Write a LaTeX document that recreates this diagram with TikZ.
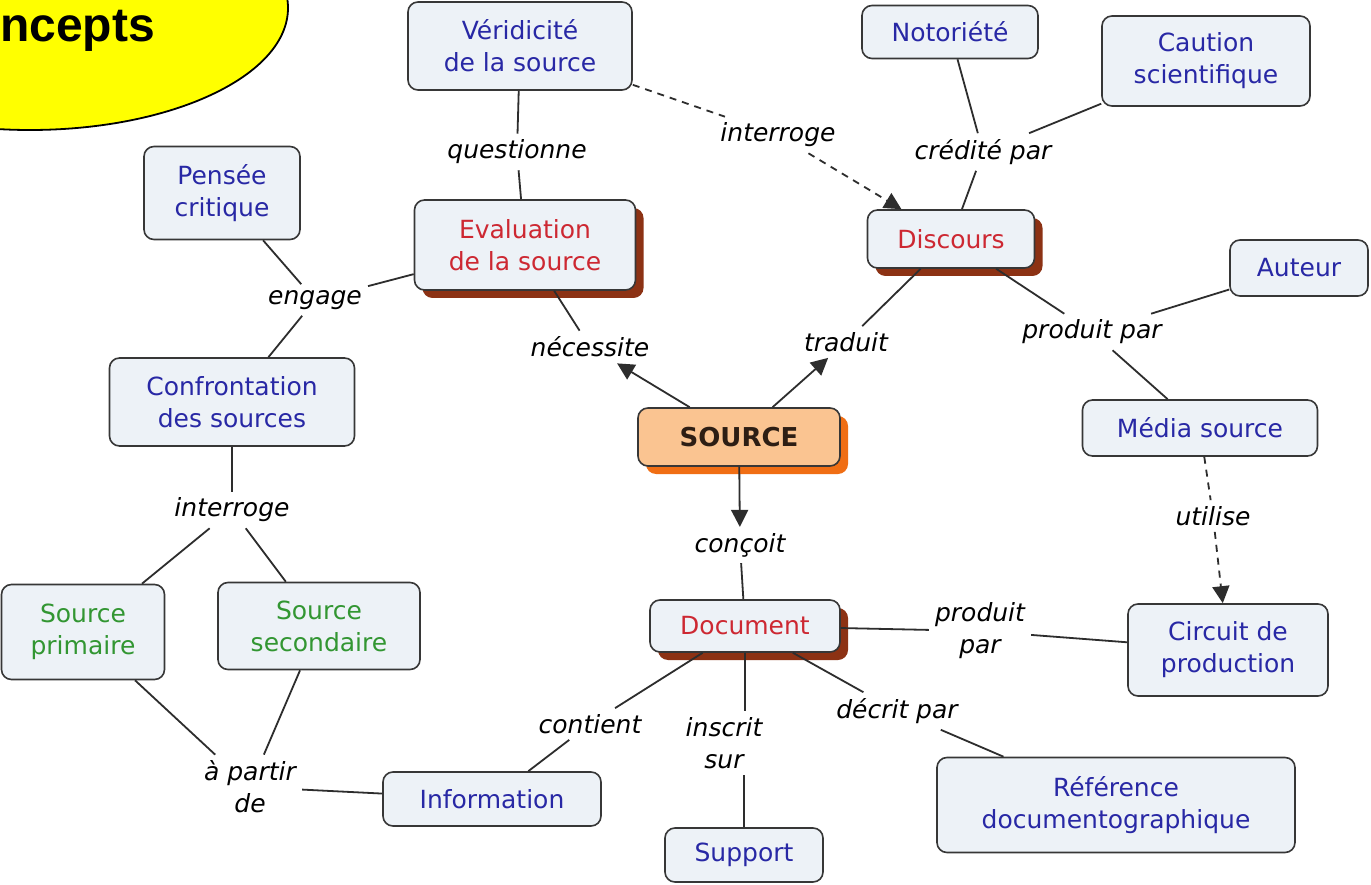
\documentclass[tikz,border=0pt]{standalone}
\usepackage{fontspec}
\setmainfont{DejaVu Sans}
\newfontfamily\titlefont{Liberation Sans}
\usetikzlibrary{arrows.meta,shadows}
\definecolor{boxfill}{RGB}{237,242,247}
\definecolor{boxdraw}{RGB}{55,55,55}
\definecolor{linecol}{RGB}{45,45,45}
\definecolor{ctblue}{RGB}{40,40,165}
\definecolor{ctred}{RGB}{205,40,50}
\definecolor{ctgreen}{RGB}{50,150,50}
\definecolor{shadowred}{RGB}{140,50,20}
\definecolor{srcfill}{RGB}{250,196,145}
\definecolor{srcshadow}{RGB}{240,110,20}
\definecolor{srctext}{RGB}{45,30,20}
\definecolor{titleyellow}{RGB}{255,255,0}
\begin{document}
\begin{tikzpicture}[x=1pt,y=-1pt,
  concept/.style={draw=boxdraw,line width=1.6pt,rounded corners=10pt,fill=boxfill,align=center,
    font=\fontsize{25}{32}\selectfont,text=ctblue,inner sep=0pt},
  redc/.style={text=ctred,drop shadow={shadow xshift=8pt,shadow yshift=-8pt,fill=shadowred,opacity=1}},
  greenc/.style={text=ctgreen},
  link/.style={font=\fontsize{25}{32}\selectfont\itshape,align=center,inner sep=6pt,text=black},
  conn/.style={draw=linecol,line width=1.8pt},
  arr/.style={conn,-{Triangle[length=17pt,width=17pt]}},
  dashconn/.style={conn,dash pattern=on 7pt off 6pt},
]
\useasboundingbox (0,0) rectangle (1371,885);
\fill[white] (0,0) rectangle (1371,885);
\begin{scope}
\clip (0,0) rectangle (1371,885);
\draw[fill=titleyellow,draw=black,line width=1.8pt] (30,8) ellipse [x radius=258, y radius=122];
\end{scope}
\node[anchor=base west,font=\titlefont\bfseries\fontsize{48}{52}\selectfont,inner sep=0pt] (title) at (0,42) {ncepts};

% concepts
\node[concept,minimum width=224,minimum height=88] (ver) at (520,46) {Véridicité\\de la source};
\node[concept,minimum width=176,minimum height=53] (noto) at (950,32) {Notoriété};
\node[concept,minimum width=208,minimum height=90] (caut) at (1206,61) {Caution\\scientifique};
\node[concept,minimum width=156,minimum height=93] (pens) at (222,193) {Pensée\\critique};
\node[concept,redc,minimum width=221,minimum height=90] (eval) at (525,245) {Evaluation\\de la source};
\node[concept,redc,minimum width=167,minimum height=58] (disc) at (951,239) {Discours};
\node[concept,minimum width=138,minimum height=56] (aut) at (1299,268) {Auteur};
\node[concept,minimum width=245,minimum height=88] (conf) at (232,402) {Confrontation\\des sources};
\node[concept,fill=srcfill,text=srctext,font=\bfseries\fontsize{26}{32}\selectfont,
  drop shadow={shadow xshift=8pt,shadow yshift=-8pt,fill=srcshadow,opacity=1},
  minimum width=202,minimum height=58] (src) at (739,437) {SOURCE};
\node[concept,minimum width=235,minimum height=56] (media) at (1200,428) {Média source};
\node[concept,greenc,minimum width=163,minimum height=95] (sprim) at (83,632) {Source\\primaire};
\node[concept,greenc,minimum width=202,minimum height=87] (ssec) at (319,626) {Source\\secondaire};
\node[concept,redc,minimum width=190,minimum height=52] (doc) at (745,626) {Document};
\node[concept,minimum width=200,minimum height=92] (circ) at (1228,650) {Circuit de\\production};
\node[concept,minimum width=218,minimum height=54] (info) at (492,799) {Information};
\node[concept,minimum width=158,minimum height=54] (supp) at (744,855) {Support};
\node[concept,minimum width=358,minimum height=95] (ref) at (1116,805) {Référence\\documentographique};

% linking phrases
\node[link] (lquest) at (517,152) {questionne};
\node[link] (linterA) at (778,135) {interroge};
\node[link] (lcred) at (983,152) {crédité par};
\node[link] (lengage) at (315,300) {engage};
\node[link] (lnec) at (590,347) {nécessite};
\node[link] (ltrad) at (846,342) {traduit};
\node[link] (lprodA) at (1092,332) {produit par};
\node[link] (linterB) at (232,510) {interroge};
\node[link] (lutil) at (1213,516) {utilise};
\node[link] (lconc) at (740,545) {conçoit};
\node[link] (lprodB) at (980,631) {produit\\par};
\node[link] (lcont) at (590,724) {contient};
\node[link] (linscr) at (724,743) {inscrit\\sur};
\node[link] (ldecr) at (897,711) {décrit par};
\node[link] (lapartir) at (250,787) {à partir\\de};

% connectors
\draw[conn] (ver) -- (lquest);
\draw[conn] (lquest) -- (eval);
\draw[dashconn] (ver) -- (linterA);
\draw[dashconn,-{Triangle[length=17pt,width=17pt]}] (linterA) -- (disc);
\draw[conn] (noto) -- (lcred);
\draw[conn] (caut) -- (lcred);
\draw[conn] (lcred) -- (disc);
\draw[conn] (pens) -- (lengage);
\draw[conn] (lengage) -- (eval);
\draw[conn] (lengage) -- (conf);
\draw[arr] (src) -- (lnec);
\draw[conn] (lnec) -- (eval);
\draw[arr] (src) -- (ltrad);
\draw[conn] (ltrad) -- (disc);
\draw[conn] (disc) -- (lprodA);
\draw[conn] (lprodA) -- (aut);
\draw[conn] (lprodA) -- (media);
\draw[dashconn] (media) -- (lutil);
\draw[dashconn,-{Triangle[length=17pt,width=17pt]}] (lutil) -- (circ);
\draw[conn] (conf) -- (linterB);
\draw[conn] (linterB) -- (sprim);
\draw[conn] (linterB) -- (ssec);
\draw[arr] (src) -- (lconc);
\draw[conn] (lconc) -- (doc);
\draw[conn] (doc) -- (lprodB);
\draw[conn] (lprodB) -- (circ);
\draw[conn] (doc) -- (lcont);
\draw[conn] (lcont) -- (info);
\draw[conn] (doc.south) -- (doc.south |- linscr.north);
\draw[conn] (supp.north) -- (supp.north |- linscr.south);
\draw[conn] (doc) -- (ldecr);
\draw[conn] (ldecr) -- (ref);
\draw[conn] (sprim) -- (lapartir);
\draw[conn] (ssec) -- (lapartir);
\draw[conn] (lapartir) -- (info);
\end{tikzpicture}
\end{document}
